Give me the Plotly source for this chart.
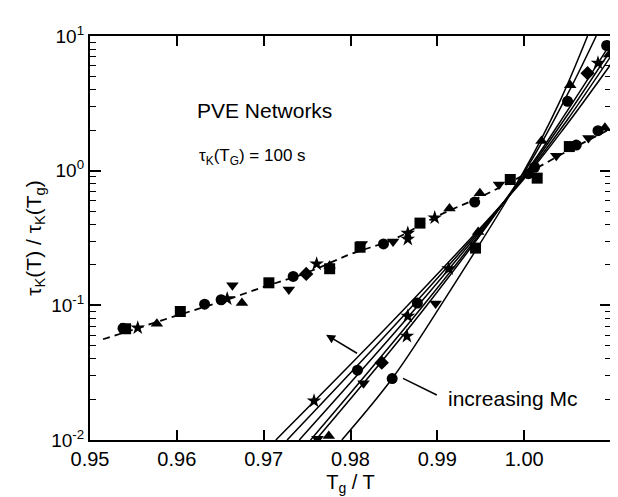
import numpy as np
import plotly.graph_objects as go

# ---------------- data ----------------
# dashed master curve (shifted data) guide
dash_x = [0.9515, 0.955, 0.960, 0.965, 0.970, 0.975, 0.980, 0.985, 0.990, 0.995, 1.000, 1.005, 1.010]
dash_y = [0.056, 0.066, 0.084, 0.106, 0.137, 0.175, 0.240, 0.310, 0.460, 0.640, 0.930, 1.400, 2.050]

# markers along the dashed curve
dpt_x = [0.9538, 0.9541, 0.9555, 0.9577, 0.9604, 0.9632, 0.9651, 0.9658, 0.9664, 0.9675,
         0.9706, 0.9729, 0.9734, 0.9749, 0.9761, 0.9776, 0.9776, 0.9811, 0.9813, 0.9838,
         0.9849, 0.9866, 0.9866, 0.9880, 0.9897, 0.9914, 0.9943, 0.9949, 0.9971, 0.9984,
         1.0005, 1.0012, 1.0015, 1.0037, 1.0052, 1.0060, 1.0074, 1.0085, 1.0093]
dpt_y = [0.0675, 0.0670, 0.068, 0.073, 0.090, 0.102, 0.110, 0.112, 0.141, 0.104,
         0.147, 0.131, 0.164, 0.171, 0.203, 0.197, 0.187, 0.270, 0.285, 0.286,
         0.298, 0.343, 0.310, 0.408, 0.447, 0.524, 0.585, 0.680, 0.790, 0.860,
         0.950, 1.060, 0.880, 1.290, 1.510, 1.550, 1.750, 1.980, 2.080]
dpt_sym = ["circle", "square", "star", "triangle-up", "square", "circle", "circle", "star", "triangle-down", "triangle-up",
           "square", "triangle-down", "circle", "diamond", "star", "triangle-up", "square", "square", "triangle-down", "circle",
           "triangle-down", "star", "star", "square", "star", "triangle-up", "circle", "triangle-up", "triangle-down", "square",
           "circle", "circle", "square", "triangle-down", "square", "circle", "triangle-down", "circle", "triangle-up"]

# solid fan of curves (one per network)
fan_x = [
    [0.9790, 0.9848, 0.9904, 1.0000, 1.0040, 1.0073],
    [0.9760, 0.9888, 1.0000, 1.0050, 1.0083],
    [0.9754, 0.9884, 1.0000, 1.0050, 1.0100],
    [0.9741, 0.9878, 1.0000, 1.0050, 1.0100],
    [0.9727, 0.9872, 1.0000, 1.0050, 1.0100],
    [0.9714, 0.9866, 1.0000, 1.0050, 1.0100],
]
fan_y = [
    [0.010, 0.0286, 0.100, 1.000, 3.16, 10.0],
    [0.010, 0.100, 0.977, 3.70, 10.0],
    [0.010, 0.100, 0.930, 2.80, 8.9],
    [0.010, 0.100, 0.910, 2.60, 7.9],
    [0.010, 0.100, 0.890, 2.40, 7.1],
    [0.010, 0.100, 0.870, 2.24, 6.2],
]

# markers sitting on the fan curves
fpt_x = [0.9758, 0.9762, 0.9775, 0.9808, 0.9815, 0.9836, 0.9848, 0.9865, 0.9866, 0.9877,
         0.9898, 0.9913, 0.9944, 0.9947, 1.0020, 1.0050, 1.0053, 1.0073, 1.0085, 1.0095, 1.0098]
fpt_y = [0.0195, 0.0102, 0.0107, 0.033, 0.0264, 0.0375, 0.0286, 0.059, 0.083, 0.104,
         0.103, 0.187, 0.266, 0.350, 1.66, 3.27, 4.30, 5.30, 6.30, 8.50, 7.30]
fpt_sym = ["star", "triangle-down", "triangle-up", "circle", "triangle-down", "diamond", "circle", "star", "star", "circle",
           "triangle-down", "star", "square", "triangle-up", "triangle-up", "circle", "triangle-up", "diamond", "star", "circle",
           "triangle-up"]

x_ticks = [0.95, 0.96, 0.97, 0.98, 0.99, 1.00, 1.01]
y_ticks = [0.01, 0.1, 1, 10]
y_tick_text = ["10<sup>-2</sup>", "10<sup>-1</sup>", "10<sup>0</sup>", "10<sup>1</sup>"]
y_minor = [m * 10.0 ** e for e in (-2, -1, 0) for m in range(2, 10)]

FONT = "Liberation Sans, Arial, sans-serif"

fig = go.Figure()

for xs, ys in zip(fan_x, fan_y):
    fig.add_trace(go.Scatter(x=xs, y=ys, mode="lines",
                             line=dict(color="black", width=1.5, shape="spline", smoothing=1.0),
                             hoverinfo="skip", showlegend=False))

fig.add_trace(go.Scatter(x=dash_x, y=dash_y, mode="lines",
                         line=dict(color="black", width=1.8, dash="7px,5px", shape="spline"),
                         showlegend=False))

fig.add_trace(go.Scatter(x=dpt_x, y=dpt_y, mode="markers",
                         marker=dict(symbol=dpt_sym, size=11, color="black", line=dict(width=0)),
                         showlegend=False))
fig.add_trace(go.Scatter(x=fpt_x, y=fpt_y, mode="markers",
                         marker=dict(symbol=fpt_sym, size=11, color="black", line=dict(width=0)),
                         showlegend=False))

L = np.log10
annotations = [
    dict(x=0.9621, y=L(2.82), text="PVE Networks", showarrow=False, xanchor="left", yanchor="middle",
         font=dict(size=21, family=FONT, color="black")),
    dict(x=0.9623, y=L(1.26), text="τ<sub>K</sub>(T<sub>G</sub>) = 100 s", showarrow=False,
         xanchor="left", yanchor="middle", font=dict(size=17, family=FONT, color="black")),
    dict(x=0.9910, y=L(0.0203), text="increasing Mc", showarrow=False, xanchor="left", yanchor="middle",
         font=dict(size=21, family=FONT, color="black")),
    dict(x=0.97719, y=L(0.0605), ax=0.98092, ay=L(0.0434), axref="x", ayref="y", xref="x", yref="y",
         text="", showarrow=True, arrowhead=2, arrowsize=1.2, arrowwidth=1.5, arrowcolor="black"),
    dict(x=0.98605, y=L(0.0287), ax=0.99011, ay=L(0.0213), axref="x", ayref="y", xref="x", yref="y",
         text="", showarrow=True, arrowhead=0, arrowwidth=1.5, arrowcolor="black"),
]

fig.update_layout(
    width=618, height=497,
    margin=dict(l=82, r=15, t=28, b=65),
    paper_bgcolor="white", plot_bgcolor="white",
    font=dict(family=FONT, color="black"),
    annotations=annotations,
    showlegend=False,
)
fig.update_xaxes(
    range=[0.95, 1.01], tickvals=x_ticks, tickformat=".2f",
    ticks="inside", ticklen=10, tickwidth=1.5, tickcolor="black",
    showline=True, linecolor="black", linewidth=2.2, mirror="ticks",
    showgrid=False, zeroline=False,
    tickfont=dict(size=20, family=FONT),
    title=dict(text="T<sub>g</sub> / T", font=dict(size=20, family=FONT), standoff=6),
)
fig.update_yaxes(
    type="log", range=[-2, 1], tickvals=y_ticks, ticktext=y_tick_text,
    ticks="inside", ticklen=11, tickwidth=1.5, tickcolor="black",
    minor=dict(ticks="inside", ticklen=6, tickwidth=1.2, tickcolor="black", tickvals=y_minor, showgrid=False),
    showline=True, linecolor="black", linewidth=2.2, mirror="ticks",
    showgrid=False, zeroline=False,
    tickfont=dict(size=19, family=FONT),
    title=dict(text="τ<sub>K</sub>(T) / τ<sub>K</sub>(T<sub>g</sub>)", font=dict(size=21, family=FONT), standoff=4),
)

fig.write_html("out.html")
